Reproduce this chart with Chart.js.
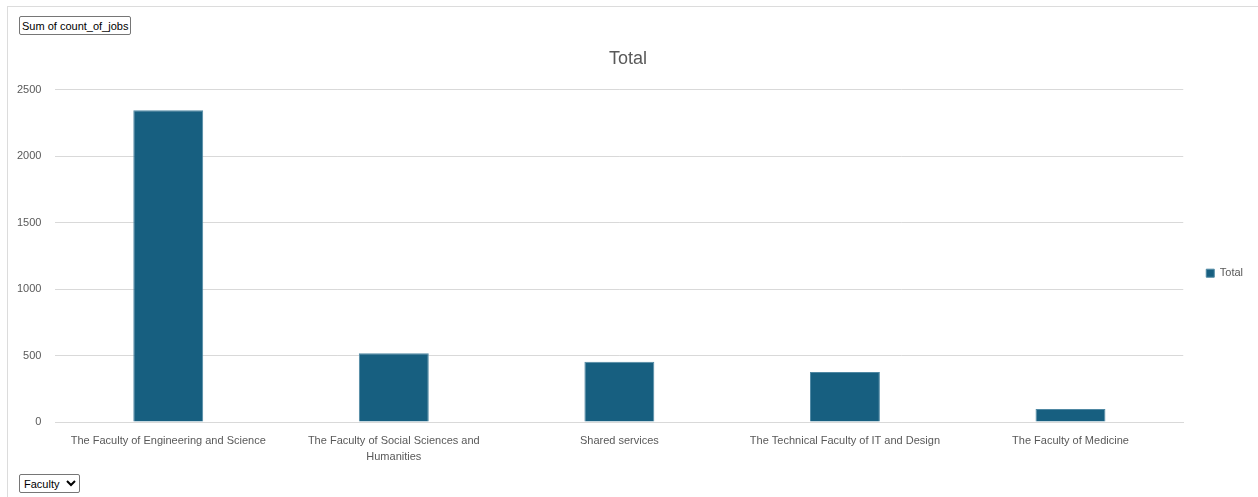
<!DOCTYPE html>
<html>
<head>
<meta charset="utf-8">
<script src="https://cdn.jsdelivr.net/npm/chart.js@4/dist/chart.umd.min.js"></script>
<style>
    html, body { margin: 0; padding: 0; background: #fff; }
    body { width: 1258px; height: 497px; position: relative; overflow: hidden;
           font-family: 'Liberation Sans', Arial, sans-serif; }
    #frame { position: absolute; left: 7px; top: 6px; width: 1262px; height: 500px;
             border: 1px solid #dcdcdc; box-sizing: border-box; }
    #wrap { position: absolute; left: 0; top: 0; width: 1258px; height: 497px; }
    #fieldBtn { position: absolute; left: 19px; top: 16px; height: 19px; padding: 0 2px;
                font: 11px 'Liberation Sans', Arial, sans-serif;
                border: 1px solid #767676; border-radius: 2px; background: #fff; color: #000; }
    #facultySel { position: absolute; left: 19px; top: 474px; height: 19px; width: 61px;
                  font: 11px 'Liberation Sans', Arial, sans-serif;
                  border: 1px solid #767676; border-radius: 2px; background: #fff; color: #000; }
</style>
</head>
<body>
<div id="frame"></div>
<div id="wrap"><canvas id="jobsChart"></canvas></div>
<button id="fieldBtn">Sum of count_of_jobs</button>
<select id="facultySel"><option>Faculty</option></select>
<script>
const faculties = [
    'The Faculty of Engineering and Science',
    ['The Faculty of Social Sciences and', 'Humanities'],
    'Shared services',
    'The Technical Faculty of IT and Design',
    'The Faculty of Medicine'
];
const totals = [2345, 517, 453, 377, 99];

const barColor = '#175f80';
const textGrey = '#595959';
const fontFamily = "'Liberation Sans', Arial, sans-serif";

const chartData = {
    labels: faculties,
    datasets: [
        {
            label: 'Total',
            data: totals,
            backgroundColor: barColor,
            borderColor: '#4f88a3',
            borderWidth: 1,
            categoryPercentage: 1,
            barPercentage: 0.31
        }
    ]
};

const chartConfig = {
    type: 'bar',
    data: chartData,
    options: {
        responsive: false,
        animation: false,
        layout: {
            padding: { left: 3, right: 5, top: 40, bottom: 29 }
        },
        plugins: {
            title: {
                display: true,
                text: 'Total',
                color: textGrey,
                font: { size: 18, family: fontFamily, weight: 'normal' },
                padding: { top: 8, bottom: 20 }
            },
            legend: {
                position: 'right',
                // empty legend title, only there to push the key down a little
                title: {
                    display: true,
                    text: ' ',
                    padding: 12,
                    font: { size: 12, family: fontFamily }
                },
                labels: {
                    boxWidth: 8,
                    boxHeight: 8,
                    color: textGrey,
                    padding: 23,
                    font: { size: 11, family: fontFamily }
                }
            },
            tooltip: { enabled: false }
        },
        scales: {
            x: {
                grid: { display: false },
                border: { color: '#d9d9d9' },
                ticks: {
                    color: textGrey,
                    maxRotation: 0,
                    autoSkip: false,
                    padding: 3,
                    font: { size: 11, family: fontFamily, lineHeight: 1.45 }
                }
            },
            y: {
                min: 0,
                max: 2500,
                grid: { color: '#d9d9d9', drawTicks: false },
                border: { display: false },
                ticks: {
                    stepSize: 500,
                    color: textGrey,
                    padding: 14,
                    font: { size: 11, family: fontFamily },
                    callback: (value) => String(value)
                }
            }
        }
    }
};

const canvas = document.getElementById('jobsChart');
canvas.width = 1258;
canvas.height = 497;
const jobsChart = new Chart(canvas, chartConfig);
</script>
</body>
</html>
